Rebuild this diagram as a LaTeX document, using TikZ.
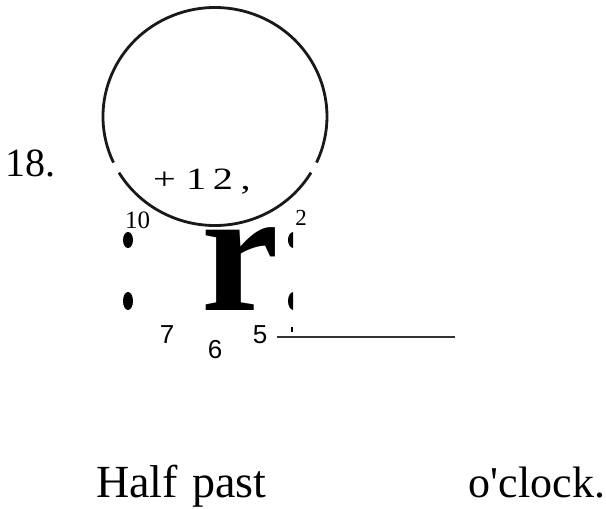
\documentclass[tikz,border=0pt]{standalone}
\usepackage{fontspec}
\setmainfont{Liberation Serif}
\newfontfamily\numsans{Liberation Sans}
\tikzset{
  txt/.style={inner sep=0pt, outer sep=0pt},
  ring/.style={line width=2.8pt, draw=black!90},
  dotmark/.style={fill=black, draw=none},
  answerline/.style={line width=2.2pt, draw=black!80}
}
\begin{document}
\begin{tikzpicture}[x=1pt,y=-1pt]
\useasboundingbox (0,0) rectangle (606,509);
% question number
\node[txt, anchor=base west, font=\fontsize{40}{40}\selectfont] (num) at (5.5,176) {18.};
% clock face (with two gaps)
\coordinate (c) at (215,116.5);
\draw[ring] (c) ++(155:112 and 109) arc[start angle=155, end angle=385, x radius=112, y radius=109];
\draw[ring] (c) ++(31:112 and 109) arc[start angle=31, end angle=149, x radius=112, y radius=109];
% garbled label
\node[txt, anchor=base west, xscale=1.3, font=\fontsize{31}{31}\selectfont] (twelve) at (153,189) {+\hspace{8pt}1\hspace{5pt}2\hspace{6pt},};
\node[txt, anchor=base, font=\fontsize{25}{25}\selectfont] (ten) at (137.5,228) {10};
\node[txt, anchor=base, font=\fontsize{23}{23}\selectfont] (two) at (301,225) {2};
% dots
\fill[dotmark] (128,240) ellipse[x radius=5, y radius=8];
\fill[dotmark] (128,301) ellipse[x radius=5, y radius=9];
\begin{scope}
  \clip (280,220) rectangle (293,320);
  \fill[dotmark] (293.5,240) ellipse[x radius=5.5, y radius=8];
  \fill[dotmark] (293.5,301) ellipse[x radius=5.5, y radius=9];
\end{scope}
% big r
\node[txt, anchor=base west, font=\fontsize{175}{175}\selectfont\bfseries] (bigr) at (201,310) {r};
% bottom numbers
\node[txt, anchor=base, font=\numsans\fontsize{26}{26}\selectfont] (seven) at (167,343) {7};
\node[txt, anchor=base, font=\numsans\fontsize{26}{26}\selectfont] (six) at (215,358) {6};
\node[txt, anchor=base, font=\numsans\fontsize{26}{26}\selectfont] (five) at (260,343) {5};
\coordinate (t1) at (292,327);
\coordinate (t2) at (292,332);
\draw[line width=1.5pt] (t1) -- (t2);
% answer line
\coordinate (la) at (277,337);
\coordinate (lb) at (455,337);
\draw[answerline] (la) -- (lb);
% sentence
\node[txt, anchor=base west, font=\fontsize{46}{46}\selectfont] (half) at (96,497) {Half\hspace{3pt} past};
\node[txt, anchor=base east, font=\fontsize{44}{44}\selectfont] (oclock) at (605,497) {o\textquotesingle clock.};
\end{tikzpicture}
\end{document}
